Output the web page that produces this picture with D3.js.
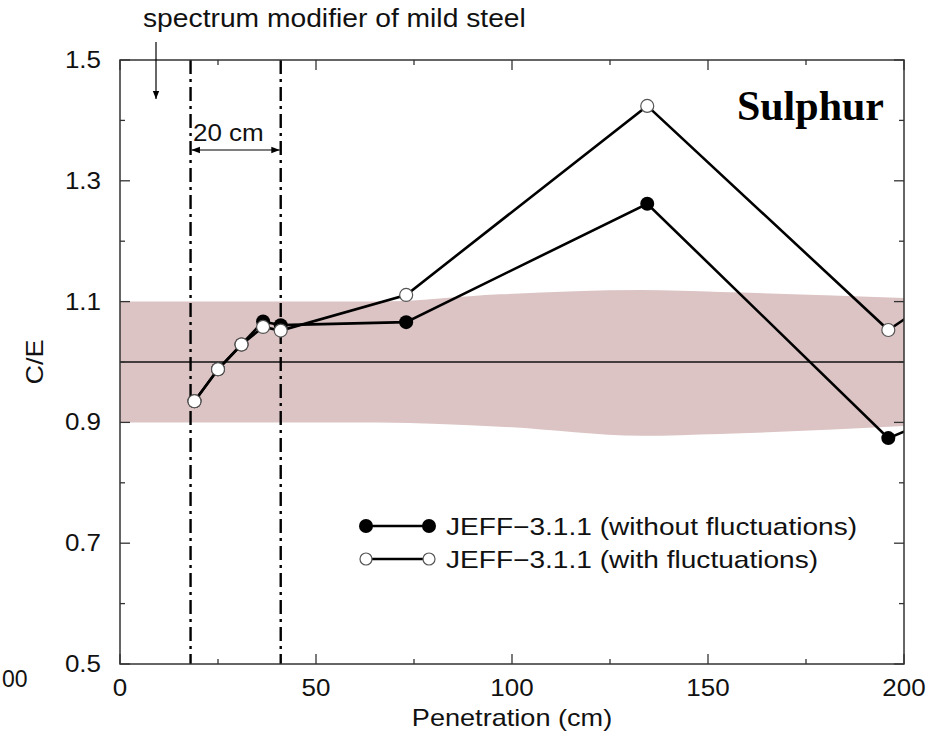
<!DOCTYPE html>
<html>
<head>
<meta charset="utf-8">
<script src="https://cdn.jsdelivr.net/npm/d3@7"></script>
<style>
  html, body { margin: 0; padding: 0; background: #fff; }
  svg { display: block; }
</style>
</head>
<body>
<div id="chart"></div>
<script>
// penetration depths (cm), the last one lies past the axis and gets clipped
const penetration = [19, 25, 31, 36.5, 41, 73, 134.5, 196, 230];
const withoutFluct = [0.935, 0.988, 1.029, 1.067, 1.061, 1.066, 1.262, 0.874, 0.966];
const withFluct = [0.935, 0.988, 1.029, 1.058, 1.052, 1.111, 1.424, 1.053, 1.2];

// experimental uncertainty band
const bandX = [0, 40, 66, 97, 133, 153, 200];
const bandHigh = [1.1, 1.1, 1.1, 1.112, 1.119, 1.116, 1.106];
const bandLow = [0.9, 0.9, 0.9, 0.893, 0.878, 0.881, 0.894];

const xTicks = [0, 50, 100, 150, 200];
const xMinor = [25, 75, 125, 175];
const yTicks = [0.5, 0.7, 0.9, 1.1, 1.3, 1.5];
const yMinor = [0.6, 0.8, 1.0, 1.2, 1.4];
const modifierEdges = [18, 41];
const legendLabels = ['JEFF\u22123.1.1 (without fluctuations)', 'JEFF\u22123.1.1 (with fluctuations)'];

const width = 940, height = 736;
const margin = { top: 60, right: 36, bottom: 72, left: 120 };
const font = 'Liberation Sans, Arial, Helvetica, sans-serif';
const stretch = 1.13; // the sans text in the picture is a bit wider than Liberation Sans

const svg = d3.select('#chart').append('svg')
    .attr('width', width)
    .attr('height', height);

const x = d3.scaleLinear().domain([0, 200]).range([margin.left, width - margin.right]);
const y = d3.scaleLinear().domain([0.5, 1.5]).range([height - margin.bottom, margin.top]);

function label(tx, ty, str, size, anchor, sx, rot) {
    return svg.append('text')
        .attr('transform', `translate(${tx},${ty}) rotate(${rot || 0}) scale(${sx || stretch},1)`)
        .attr('text-anchor', anchor || 'start')
        .style('font-family', font).style('font-size', size + 'px').attr('fill', '#111')
        .text(str);
}

svg.append('clipPath').attr('id', 'plot-clip')
    .append('rect')
    .attr('x', x(0)).attr('y', y(1.5))
    .attr('width', x(200) - x(0)).attr('height', y(0.5) - y(1.5));

const plot = svg.append('g').attr('clip-path', 'url(#plot-clip)');

const band = bandX.map((d, i) => ({ x: d, lo: bandLow[i], hi: bandHigh[i] }));
plot.append('path')
    .datum(band)
    .attr('fill', '#dcc4c5')
    .attr('d', d3.area().x(d => x(d.x)).y0(d => y(d.lo)).y1(d => y(d.hi)).curve(d3.curveMonotoneX));

plot.append('line')
    .attr('x1', x(0)).attr('x2', x(200))
    .attr('y1', y(1)).attr('y2', y(1))
    .attr('stroke', '#111').attr('stroke-width', 1.6);

// dash-dot markers for the mild steel block
plot.selectAll('.edge')
    .data(modifierEdges)
    .enter()
    .append('line')
    .attr('x1', d => x(d)).attr('x2', d => x(d))
    .attr('y1', y(1.5)).attr('y2', y(0.5))
    .attr('stroke', '#000')
    .attr('stroke-width', 2.4)
    .attr('stroke-dasharray', '14,5,3,5');

// axes frame with inward ticks on all four sides
const axisColor = '#333';
svg.append('rect')
    .attr('x', x(0)).attr('y', y(1.5))
    .attr('width', x(200) - x(0)).attr('height', y(0.5) - y(1.5))
    .attr('fill', 'none').attr('stroke', axisColor).attr('stroke-width', 1.5);

function ticks(g, scaleFn, values, len, side) {
    g.selectAll(null).data(values).enter().append('line')
        .attr('x1', d => side === 'bottom' || side === 'top' ? scaleFn(d) : (side === 'left' ? x(0) : x(200)))
        .attr('x2', d => side === 'bottom' || side === 'top' ? scaleFn(d) : (side === 'left' ? x(0) + len : x(200) - len))
        .attr('y1', d => side === 'left' || side === 'right' ? scaleFn(d) : (side === 'bottom' ? y(0.5) : y(1.5)))
        .attr('y2', d => side === 'left' || side === 'right' ? scaleFn(d) : (side === 'bottom' ? y(0.5) - len : y(1.5) + len))
        .attr('stroke', axisColor).attr('stroke-width', 1.3);
}
const tg = svg.append('g');
['bottom', 'top'].forEach(s => { ticks(tg, x, xTicks, 10, s); ticks(tg, x, xMinor, 5, s); });
['left', 'right'].forEach(s => { ticks(tg, y, yTicks, 10, s); ticks(tg, y, yMinor, 5, s); });

svg.append('g').selectAll('text')
    .data(xTicks).enter().append('text')
    .attr('transform', d => `translate(${x(d)},696) scale(${stretch},1)`)
    .attr('text-anchor', 'middle')
    .style('font-family', font).style('font-size', '23px').attr('fill', '#111')
    .text(d => d);

svg.append('g').selectAll('text')
    .data(yTicks).enter().append('text')
    .attr('transform', d => `translate(${x(0) - 19},${y(d) + 8}) scale(${stretch},1)`)
    .attr('text-anchor', 'end')
    .style('font-family', font).style('font-size', '23px').attr('fill', '#111')
    .text(d => d3.format('.1f')(d));

label((x(0) + x(200)) / 2, 726, 'Penetration (cm)', 24, 'middle');
label(43, y(1), 'C/E', 24, 'middle', stretch, -90);

// visible end of the neighbouring panel's tick label
label(2, 687, '00', 23, 'start', 1);

// series
const line = d3.line().x(d => x(d[0])).y(d => y(d[1]));
const ptsWithout = penetration.map((p, i) => [p, withoutFluct[i]]);
const ptsWith = penetration.map((p, i) => [p, withFluct[i]]);

plot.append('path').attr('d', line(ptsWithout))
    .attr('fill', 'none').attr('stroke', '#000').attr('stroke-width', 2.6);
plot.append('path').attr('d', line(ptsWith))
    .attr('fill', 'none').attr('stroke', '#000').attr('stroke-width', 2.6);

plot.selectAll('.dot-filled').data(ptsWithout).enter().append('circle')
    .attr('cx', d => x(d[0])).attr('cy', d => y(d[1])).attr('r', 7)
    .attr('fill', '#000');
plot.selectAll('.dot-open').data(ptsWith).enter().append('circle')
    .attr('cx', d => x(d[0])).attr('cy', d => y(d[1])).attr('r', 6.5)
    .attr('fill', '#fff').attr('stroke', '#555').attr('stroke-width', 1.2);

// annotations
label(143, 27, 'spectrum modifier of mild steel', 25, 'start');

svg.append('defs').selectAll('marker')
    .data(['arr'])
    .enter().append('marker')
    .attr('id', 'arr')
    .attr('viewBox', '0 0 10 10').attr('refX', 10).attr('refY', 5)
    .attr('markerWidth', 7).attr('markerHeight', 7)
    .attr('orient', 'auto-start-reverse')
    .append('path').attr('d', 'M0,1L10,5L0,9Z').attr('fill', '#000');

svg.append('line')
    .attr('x1', 156).attr('x2', 156).attr('y1', 42).attr('y2', 99)
    .attr('stroke', '#000').attr('stroke-width', 1.2)
    .attr('marker-end', 'url(#arr)');

svg.append('line')
    .attr('x1', x(modifierEdges[0]) + 1).attr('x2', x(modifierEdges[1]) - 1)
    .attr('y1', 150).attr('y2', 150)
    .attr('stroke', '#000').attr('stroke-width', 1.2)
    .attr('marker-start', 'url(#arr)').attr('marker-end', 'url(#arr)');

label(193, 141, '20 cm', 23, 'start');

svg.append('text')
    .attr('x', 884).attr('y', 120)
    .attr('text-anchor', 'end')
    .style('font-family', 'Liberation Serif, Times New Roman, serif')
    .style('font-size', '42px').style('font-weight', 'bold').attr('fill', '#000')
    .text('Sulphur');

// legend
const legend = svg.append('g');
legendLabels.forEach((text, i) => {
    const ly = 526 + i * 33;
    legend.append('line')
        .attr('x1', 366).attr('x2', 429).attr('y1', ly).attr('y2', ly)
        .attr('stroke', '#000').attr('stroke-width', 2.6);
    [366, 429].forEach(cx => {
        legend.append('circle')
            .attr('cx', cx).attr('cy', ly).attr('r', i === 0 ? 7 : 6)
            .attr('fill', i === 0 ? '#000' : '#fff')
            .attr('stroke', i === 0 ? 'none' : '#555').attr('stroke-width', 1.2);
    });
    label(446, ly + 9, text, 24, 'start', 1.17);
});
</script>
</body>
</html>
